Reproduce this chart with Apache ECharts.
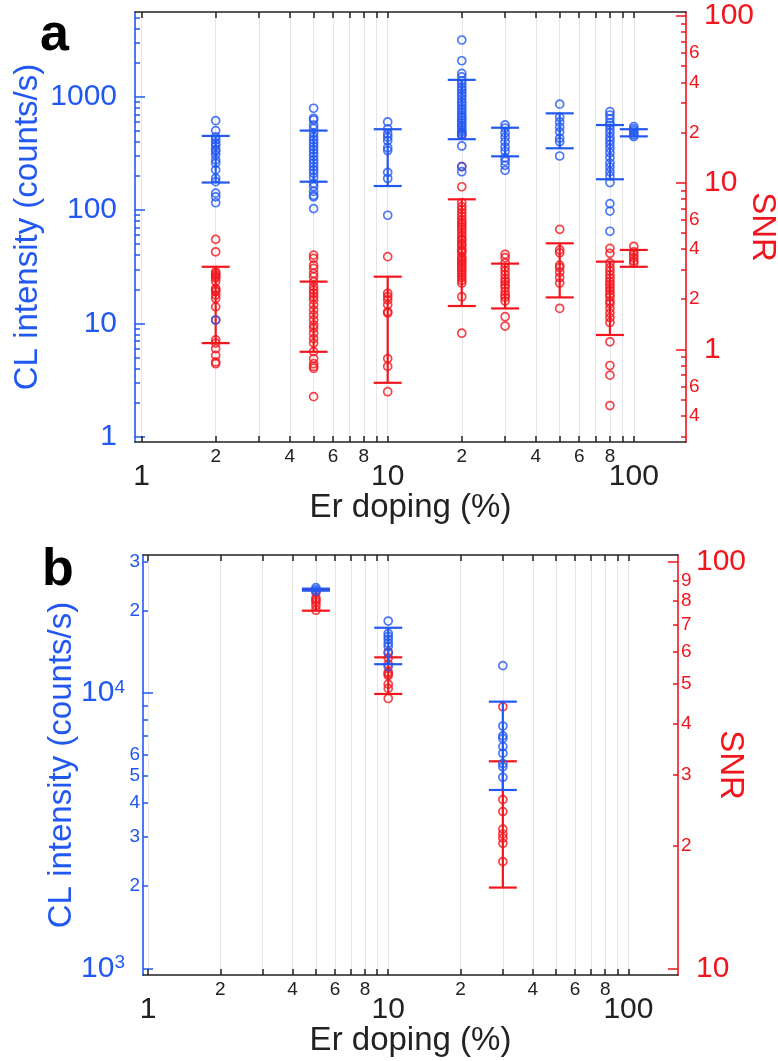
<!DOCTYPE html>
<html><head><meta charset="utf-8">
<script src="https://cdn.jsdelivr.net/npm/echarts@6/dist/echarts.min.js"></script>
<style>html,body{margin:0;padding:0;background:#fff}#c{width:778px;height:1061px}</style>
</head><body><div id="c"></div>
<script>
// ---------- DATA ----------
// Panel a
const dopingA = [2, 5, 10, 20, 30, 50, 80, 100];
const clA = [
  [615, 503, 443, 416, 389, 368, 341, 330, 307, 277, 259, 226, 191, 178, 141, 131, 116, 10.7],
  [792, 646, 624, 563, 525, 478, 443, 416, 389, 364, 341, 319, 298, 277, 259, 242, 226, 211, 194, 172, 161, 146, 135, 131, 103],
  [600, 520, 470, 440, 410, 355, 335, 215, 190, 90],
  [3170, 2080, 1610, 1500, 1380, 1300, 1220, 1150, 1080, 1020, 960, 900, 850, 800, 760, 720, 680, 650, 620, 590, 560, 540, 510, 490, 470, 460, 368, 242, 218],
  [565, 530, 480, 440, 400, 360, 330, 290, 270, 248, 224],
  [860, 660, 600, 540, 490, 430, 400, 300],
  [740, 690, 640, 590, 560, 520, 480, 440, 410, 380, 350, 320, 290, 260, 240, 218, 200, 175, 114, 98, 65],
  [545, 520, 500, 480, 460, 445]
];
const clErrLowA  = [175, 178, 163, 422, 298, 351, 187, 447];
const clErrHighA = [451, 503, 517, 1410, 533, 714, 563, 517];
const snrA = [
  [4.57, 3.85, 2.92, 2.86, 2.79, 2.73, 2.68, 2.55, 2.32, 2.27, 2.22, 2.12, 2.02, 1.80, 1.50, 1.14, 1.09, 1.01, 0.92, 0.84, 0.82],
  [3.68, 3.52, 3.20, 3.06, 2.86, 2.73, 2.55, 2.38, 2.27, 2.17, 2.07, 1.98, 1.85, 1.72, 1.61, 1.50, 1.40, 1.34, 1.25, 1.16, 1.09, 0.97, 0.88, 0.82, 0.79, 0.77, 0.52],
  [3.60, 2.17, 2.07, 1.98, 1.85, 1.68, 1.65, 0.88, 0.79, 0.557],
  [19.3, 12.5, 9.46, 7.6, 7.2, 6.9, 6.6, 6.3, 6.0, 5.8, 5.6, 5.4, 5.2, 5.0, 4.8, 4.6, 4.5, 4.3, 4.2, 4.0, 3.9, 3.8, 3.6, 3.5, 3.4, 3.3, 3.2, 3.1, 3.0, 2.9, 2.8, 2.7, 2.6, 2.5, 2.07, 1.25],
  [3.72, 3.55, 3.3, 3.1, 2.95, 2.8, 2.65, 2.55, 2.45, 2.35, 2.22, 2.12, 2.05, 1.95, 1.57, 1.38],
  [5.25, 3.95, 3.8, 3.2, 3.1, 2.9, 2.7, 2.5, 1.76],
  [4.04, 3.77, 3.3, 3.1, 2.95, 2.8, 2.67, 2.55, 2.45, 2.35, 2.25, 2.15, 2.07, 1.95, 1.88, 1.76, 1.65, 1.55, 1.45, 1.11, 0.80, 0.70, 0.46],
  [4.15, 3.85, 3.7, 3.55, 3.4, 3.3]
];
const snrErrLowA  = [1.09, 0.967, 0.63, 1.82, 1.76, 2.05, 1.22, 3.13];
const snrErrHighA = [3.13, 2.55, 2.73, 7.95, 3.27, 4.33, 3.36, 3.95];

// Panel b
const dopingB = [5, 10, 30];
const clB = [
  [24200, 23800, 23500],
  [18300, 16500, 16100, 15700, 15200, 14800, 14000, 12500],
  [12600, 7600, 7000, 6850, 6400, 6050, 5550, 5400, 4950]
];
const clErrLowB  = [23600, 12750, 4450];
const clErrHighB = [24000, 17300, 9320];
const snrB = [
  [84, 81.5, 80.5, 79.5, 78, 76],
  [60, 58, 56, 53.5, 53, 52.5, 50, 48.8, 46.1],
  [44, 26, 24.3, 22, 21.4, 20.9, 20.3, 18.3]
];
const snrErrLowB  = [75.8, 47.3, 15.8];
const snrErrHighB = [85.2, 58.2, 32.3];

// Tick values and labels
const xTicks = [1,2,3,4,5,6,7,8,9,10,20,30,40,50,60,70,80,90,100];
const xSmallLabels = [2,4,6,8,20,40,60,80];
const xBigLabels = [1,10,100];
const yLeftTicksA = [1,2,3,4,5,6,7,8,9,10,20,30,40,50,60,70,80,90,100,200,300,400,500,600,700,800,900,1000,2000,3000,4000,5000];
const yLeftMajorA = [1,10,100,1000];
const yRightTicksA = [0.3,0.4,0.5,0.6,0.7,0.8,0.9,2,3,4,5,6,7,8,9,20,30,40,50,60,70,80,90];
const yRightMajorA = [1,10,100];
const yRightSmallLabelsA = [0.4,0.6,2,4,6,20,40,60];
const yLeftTicksB = [2000,3000,4000,5000,6000,7000,8000,9000,20000,30000];
const yLeftMajorB = [1000,10000];
const yLeftSmallLabelsB = [2000,3000,4000,5000,6000,20000,30000];
const yRightTicksB = [20,30,40,50,60,70,80,90];
const yRightMajorB = [10,100];
const yRightSmallLabelsB = [20,30,40,50,60,70,80,90];

// ---------- STYLE ----------
const FONT = 'Liberation Sans';
const BLUE = '#2258f2';
const RED = '#f2151d';
const BLACK = '#222';
const GRIDC = '#e6e6e6';
const TITLE_FS = 33;

const lead = v => String(Math.round(v / Math.pow(10, Math.floor(Math.log10(v) + 1e-9))));

function pts(xs, groups){ const out=[]; groups.forEach((g,i)=>g.forEach(v=>out.push([xs[i], v]))); return out; }
function errs(xs, lo, hi){ return xs.map((x,i)=>[x, lo[i], hi[i]]); }
function errRender(color){
  return function(params, api){
    const x = api.value(0), lo = api.value(1), hi = api.value(2);
    const a = api.coord([x, lo]), b = api.coord([x, hi]);
    const hw = 14;
    const st = {stroke: color, lineWidth: 2.2, fill: null};
    return {type:'group', children:[
      {type:'line', shape:{x1:a[0], y1:a[1], x2:b[0], y2:b[1]}, style: st},
      {type:'line', shape:{x1:a[0]-hw, y1:a[1], x2:a[0]+hw, y2:a[1]}, style: st},
      {type:'line', shape:{x1:b[0]-hw, y1:b[1], x2:b[0]+hw, y2:b[1]}, style: st}
    ]};
  };
}

function xAxes(grid, min, max){
  return [
    {type:'log', gridIndex:grid, min, max, position:'bottom',
     axisLine:{show:true, lineStyle:{color:BLACK, width:1.5}},
     axisTick:{show:true, inside:true, length:6, customValues:xTicks, lineStyle:{color:BLACK, width:1.5}},
     axisLabel:{show:true, customValues:xSmallLabels, formatter: lead, margin:5, fontSize:19, color:BLACK, fontFamily:FONT},
     splitLine:{show:true, lineStyle:{color:GRIDC, width:1}}, minorTick:{show:false}},
    {type:'log', gridIndex:grid, min, max, position:'bottom',
     axisLine:{show:false}, axisTick:{show:false},
     axisLabel:{show:true, customValues:xBigLabels, formatter: v=>String(v), margin:20, fontSize:30, color:BLACK, fontFamily:FONT},
     splitLine:{show:false},
     name:'Er doping (%)', nameLocation:'middle', nameGap:49, nameMoveOverlap:false,
     nameTextStyle:{fontSize:TITLE_FS, color:BLACK, fontFamily:FONT}},
    {type:'log', gridIndex:grid, min, max, position:'top',
     axisLine:{show:true, lineStyle:{color:BLACK, width:1.5}},
     axisTick:{show:true, inside:true, length:6, customValues:xTicks, lineStyle:{color:BLACK, width:1.5}},
     axisLabel:{show:false}, splitLine:{show:false}}
  ];
}

function yAxisPair(grid, pos, min, max, color, minorTicks, minorLabels, majorTicks, majorFmt, majorRich, name, nameGap, nameRotate){
  const minor = {type:'log', gridIndex:grid, min, max, position:pos,
    axisLine:{show:true, lineStyle:{color, width:1.6}},
    axisTick:{show:true, inside:true, length:5, customValues:minorTicks, lineStyle:{color, width:1.5}},
    axisLabel:{show: minorLabels.length>0, customValues: minorLabels.length? minorLabels : [min], formatter: lead, margin:3, fontSize:19, color, fontFamily:FONT},
    splitLine:{show:false}};
  const major = {type:'log', gridIndex:grid, min, max, position:pos,
    axisLine:{show:false},
    axisTick:{show:true, inside:true, length:10, customValues:majorTicks, lineStyle:{color, width:1.5}},
    axisLabel:{show:true, customValues:majorTicks, formatter: majorFmt, rich: majorRich, margin:18, fontSize:30, color, fontFamily:FONT},
    splitLine:{show:false},
    name, nameLocation:'middle', nameGap, nameRotate, nameMoveOverlap:false,
    nameTextStyle:{fontSize:TITLE_FS, color, fontFamily:FONT}};
  return [minor, major];
}

const supRich = {
  b:{fontSize:30, color:BLUE, fontFamily:FONT, verticalAlign:'bottom'},
  s:{fontSize:19, color:BLUE, fontFamily:FONT, verticalAlign:'top'}
};

const option = {
  animation:false,
  backgroundColor:'#fff',
  textStyle:{fontFamily:FONT},
  grid:[
    {left:135, top:12, width:551, height:430, outerBoundsMode:'none', containLabel:false},
    {left:143, top:555, width:535, height:420, outerBoundsMode:'none', containLabel:false}
  ],
  xAxis:[].concat(xAxes(0, 0.94, 163), xAxes(1, 0.953, 160.8)),
  yAxis:[].concat(
    yAxisPair(0,'left',0.897,5600,BLUE,yLeftTicksA,[],yLeftMajorA,v=>String(v),undefined,'CL intensity (counts/s)',91,undefined),
    yAxisPair(0,'right',0.278,105.8,RED,yRightTicksA,yRightSmallLabelsA,yRightMajorA,v=>String(v),undefined,'SNR',60,-90),
    yAxisPair(1,'left',946,31800,BLUE,yLeftTicksB,yLeftSmallLabelsB,yLeftMajorB,v=>'{b|10}{s|'+Math.round(Math.log10(v))+'}',supRich,'CL intensity (counts/s)',65,undefined),
    yAxisPair(1,'right',9.63,103.9,RED,yRightTicksB,yRightSmallLabelsB,yRightMajorB,v=>String(v),undefined,'SNR',36,-90)
  ),
  graphic:[
    {type:'text', left:40, top:10, style:{text:'a', font:'bold 52px "Liberation Sans"', fill:'#000'}},
    {type:'text', left:42, top:545, style:{text:'b', font:'bold 52px "Liberation Sans"', fill:'#000'}}
  ],
  series:[
    {type:'scatter', xAxisIndex:0, yAxisIndex:1, data:pts(dopingA, clA), symbol:'circle', symbolSize:8,
     itemStyle:{color:'rgba(0,0,0,0)', borderColor:BLUE, borderWidth:1.7}, z:3},
    {type:'custom', xAxisIndex:0, yAxisIndex:1, data:errs(dopingA, clErrLowA, clErrHighA), renderItem:errRender(BLUE), encode:{x:0, y:[1,2]}, z:3},
    {type:'scatter', xAxisIndex:0, yAxisIndex:3, data:pts(dopingA, snrA), symbol:'circle', symbolSize:8,
     itemStyle:{color:'rgba(0,0,0,0)', borderColor:RED, borderWidth:1.7}, z:2},
    {type:'custom', xAxisIndex:0, yAxisIndex:3, data:errs(dopingA, snrErrLowA, snrErrHighA), renderItem:errRender(RED), encode:{x:0, y:[1,2]}, z:2},

    {type:'scatter', xAxisIndex:3, yAxisIndex:5, data:pts(dopingB, clB), symbol:'circle', symbolSize:8,
     itemStyle:{color:'rgba(0,0,0,0)', borderColor:BLUE, borderWidth:1.7}, z:3},
    {type:'custom', xAxisIndex:3, yAxisIndex:5, data:errs(dopingB, clErrLowB, clErrHighB), renderItem:errRender(BLUE), encode:{x:0, y:[1,2]}, z:3},
    {type:'scatter', xAxisIndex:3, yAxisIndex:7, data:pts(dopingB, snrB), symbol:'circle', symbolSize:8,
     itemStyle:{color:'rgba(0,0,0,0)', borderColor:RED, borderWidth:1.7}, z:2},
    {type:'custom', xAxisIndex:3, yAxisIndex:7, data:errs(dopingB, snrErrLowB, snrErrHighB), renderItem:errRender(RED), encode:{x:0, y:[1,2]}, z:2}
  ]
};
const chart = echarts.init(document.getElementById('c'), null, {renderer:'canvas'});
chart.setOption(option);
</script>
</body></html>
